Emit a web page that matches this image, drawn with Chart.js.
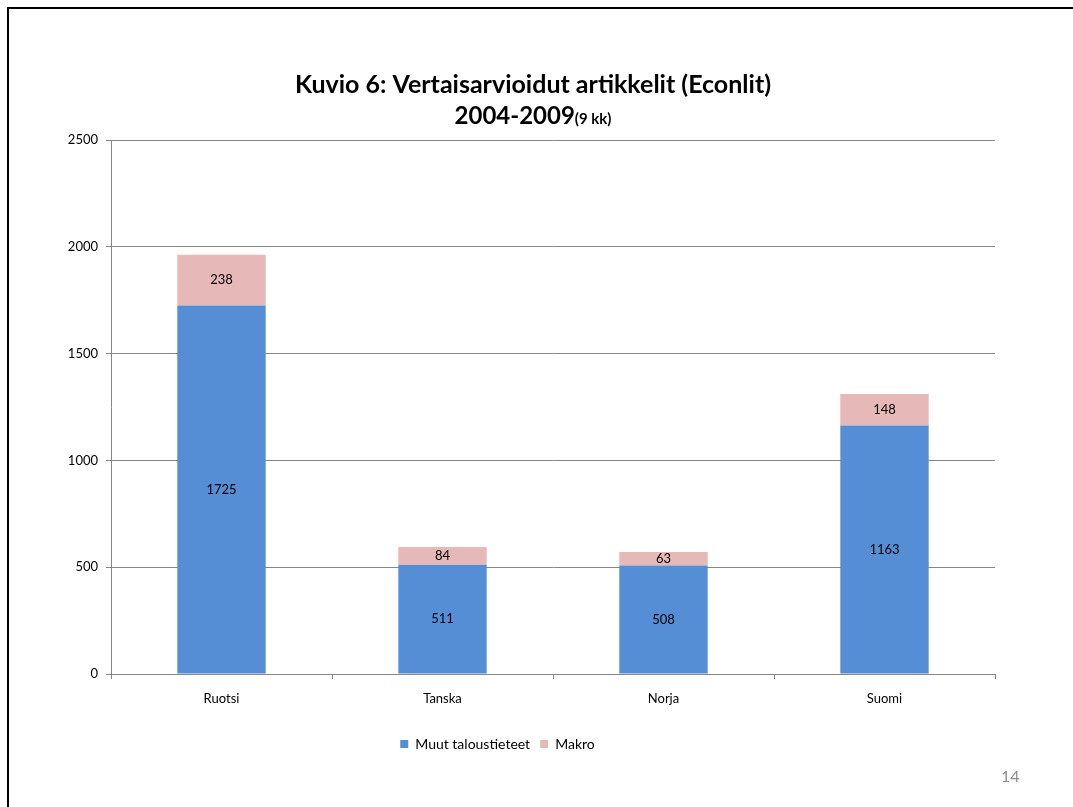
<!DOCTYPE html>
<html>
<head>
<meta charset="utf-8">
<script src="https://cdn.jsdelivr.net/npm/chart.js@4/dist/chart.umd.min.js"></script>
<style>
  body { margin: 0; background: #fff; }
  #wrap { position: relative; width: 1073px; height: 807px; overflow: hidden; }
  #frame { position: absolute; left: 7px; top: 7px; width: 1100px; height: 900px;
           border-left: 2px solid #000; border-top: 2px solid #000; }
  #page { position: absolute; left: 1001px; top: 766px; font: 16px Lato, sans-serif; color: #8c8c8c; }
  canvas { position: absolute; left: 0; top: 0; }
</style>
</head>
<body>
<div id="wrap">
  <div id="frame"></div>
  <canvas id="chart" width="1073" height="807"></canvas>
  <div id="page">14</div>
</div>
<script>
const countries = ["Ruotsi", "Tanska", "Norja", "Suomi"];
const muut = [1725, 511, 508, 1163];
const makro = [238, 84, 63, 148];
const yTicks = [0, 500, 1000, 1500, 2000, 2500];

const font = "Lato, 'Open Sans', sans-serif";

// title, two lines, second one with a smaller suffix
const titlePlugin = {
  id: 'slideTitle',
  afterDraw(chart) {
    const ctx = chart.ctx;
    const cx = 533;
    ctx.save();
    ctx.fillStyle = '#000';
    ctx.textBaseline = 'alphabetic';
    ctx.font = "bold 25px " + font;
    ctx.textAlign = 'center';
    ctx.fillText("Kuvio 6: Vertaisarvioidut artikkelit (Econlit)", cx, 93);
    const a = "2004-2009", b = "(9 kk)";
    ctx.font = "bold 24px " + font;
    const wa = ctx.measureText(a).width;
    ctx.font = "bold 15px " + font;
    const wb = ctx.measureText(b).width;
    let x = cx - (wa + wb) / 2;
    ctx.textAlign = 'left';
    ctx.font = "bold 24px " + font;
    ctx.fillText(a, x, 124);
    ctx.font = "bold 15px " + font;
    ctx.fillText(b, x + wa, 124);
    ctx.restore();
  }
};

// value labels in the middle of each bar segment
const labelPlugin = {
  id: 'segLabels',
  afterDatasetsDraw(chart) {
    const ctx = chart.ctx;
    ctx.save();
    ctx.font = "13px " + font;
    ctx.fillStyle = '#000';
    ctx.textAlign = 'center';
    ctx.textBaseline = 'middle';
    chart.data.datasets.forEach((ds, i) => {
      chart.getDatasetMeta(i).data.forEach((bar, j) => {
        const y = (bar.y + bar.base) / 2;
        ctx.fillText(ds.data[j], bar.x, y);
      });
    });
    ctx.restore();
  }
};

new Chart(document.getElementById("chart"), {
  type: 'bar',
  data: {
    labels: countries,
    datasets: [{
        label: "Muut taloustieteet",
        data: muut,
        backgroundColor: "#558ed5"
      }, {
        label: "Makro",
        data: makro,
        backgroundColor: "#e6b9b8"
      }
    ]
  },
  options: {
    responsive: false,
    animation: false,
    layout: { padding: { left: 0, right: 78, top: 140, bottom: 46 } },
    datasets: { bar: { categoryPercentage: 1, barPercentage: 0.4 } },
    plugins: {
      legend: {
        position: 'bottom',
        labels: { font: { family: font, size: 14 }, color: '#000', boxWidth: 8, boxHeight: 8, padding: 10 }
      },
      tooltip: { enabled: false }
    },
    scales: {
      x: {
        stacked: true,
        grid: { offset: true, drawOnChartArea: false, tickLength: 5, color: '#868686' },
        border: { color: '#868686' },
        ticks: { font: { family: font, size: 13 }, color: '#000', padding: 12 },
        afterFit(s) { s.height = 53; }
      },
      y: {
        stacked: true,
        min: 0,
        max: 2500,
        afterBuildTicks(s) { s.ticks = yTicks.map(v => ({ value: v })); },
        grid: { color: '#868686', tickLength: 5 },
        border: { color: '#868686' },
        ticks: { font: { family: font, size: 13 }, color: '#000', padding: 8, callback: v => String(v) },
        afterFit(s) { s.width = 111; }
      }
    }
  },
  plugins: [titlePlugin, labelPlugin]
});
</script>
</body>
</html>
